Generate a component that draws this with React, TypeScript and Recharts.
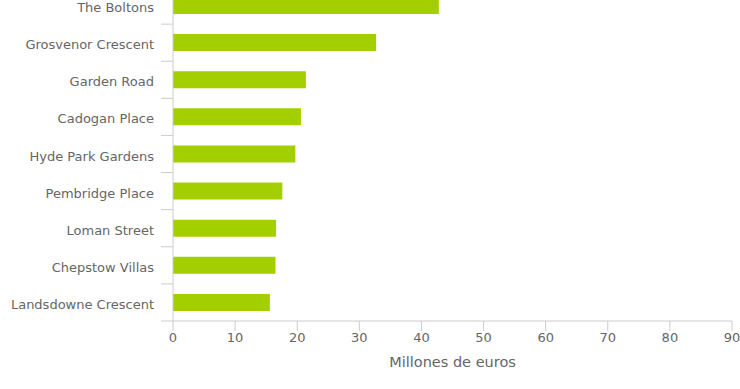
import React from "react";
import { BarChart, Bar, XAxis, YAxis } from "recharts";

const categories = [
  "The Boltons",
  "Grosvenor Crescent",
  "Garden Road",
  "Cadogan Place",
  "Hyde Park Gardens",
  "Pembridge Place",
  "Loman Street",
  "Chepstow Villas",
  "Landsdowne Crescent",
];
const values = [42.8, 32.7, 21.4, 20.6, 19.7, 17.6, 16.6, 16.5, 15.6];
const xTicks = [0, 10, 20, 30, 40, 50, 60, 70, 80, 90];
const xAxisTitle = "Millones de euros";

const data = categories.map((name, i) => ({ name, value: values[i] }));

const FONT = "'DejaVu Sans', sans-serif";
const TEXT = "#666666";
const LINE = "#cccccc";
const BAR = "#a3cf00";
const Y_TICK_SIZE = 12;
const Y_TICK_MARGIN = 7;

const CategoryTick = (props: any) => {
  const { x, y, payload } = props;
  const half = payload && payload.offset ? payload.offset : 0;
  const lineStart = x + Y_TICK_MARGIN;
  const lineEnd = lineStart + Y_TICK_SIZE;
  return (
    <g>
      <line x1={lineStart} x2={lineEnd} y1={y + half} y2={y + half} stroke={LINE} strokeWidth={1} />
      <text x={x} y={y} dy="0.5em" textAnchor="end" fill={TEXT} fontSize={13} fontFamily={FONT}>
        {payload.value}
      </text>
    </g>
  );
};

export default function App() {
  return (
    <div style={{ position: "absolute", left: 0, top: 0, width: 740, height: 389, background: "#fff" }}>
      <BarChart
        width={740}
        height={389}
        data={data}
        layout="vertical"
        margin={{ top: -13, right: 8, bottom: 0, left: 0 }}
        barSize={17}
      >
        <XAxis
          type="number"
          dataKey="value"
          domain={[0, 90]}
          ticks={xTicks}
          interval={0}
          height={68}
          tickSize={10}
          tickMargin={2}
          axisLine={{ stroke: LINE }}
          tickLine={{ stroke: LINE }}
          tick={{ fill: TEXT, fontSize: 13, fontFamily: FONT }}
          label={{
            value: xAxisTitle,
            position: "insideBottom",
            offset: 22,
            fill: TEXT,
            fontSize: 14.5,
            fontFamily: FONT,
          }}
        />
        <YAxis
          type="category"
          dataKey="name"
          width={173}
          interval={0}
          tickSize={Y_TICK_SIZE}
          tickMargin={Y_TICK_MARGIN}
          tickLine={false}
          axisLine={{ stroke: LINE }}
          tick={<CategoryTick />}
        />
        <Bar dataKey="value" fill={BAR} isAnimationActive={false} />
      </BarChart>
    </div>
  );
}
